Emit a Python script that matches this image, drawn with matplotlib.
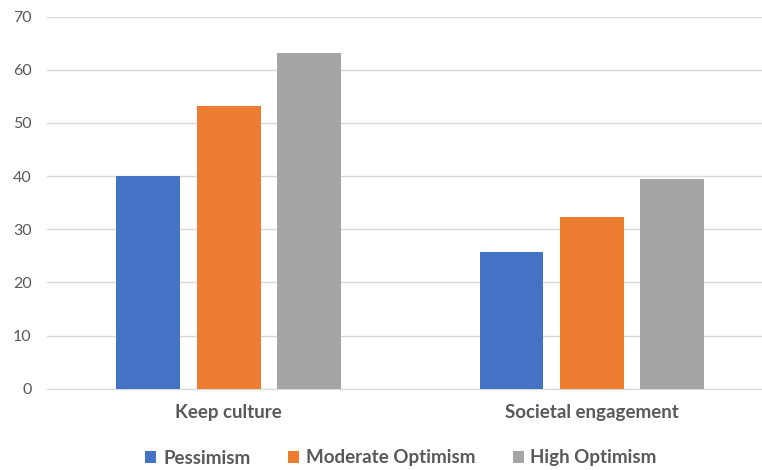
import numpy as np
import matplotlib.pyplot as plt

categories = ["Keep culture", "Societal engagement"]
series = ["Pessimism", "Moderate Optimism", "High Optimism"]
pessimism = [40.0, 25.7]
moderate = [53.2, 32.3]
high = [63.2, 39.5]
colors = ["#4472C4", "#ED7D31", "#A5A5A5"]

plt.rcParams['font.family'] = ['Lato', 'DejaVu Sans']

fig = plt.figure(figsize=(7.62, 4.70), dpi=100)
ax = fig.add_axes([47 / 762, 1 - 388.7 / 470, 1 - 47 / 762, (388.7 - 16.5) / 470])

x = np.arange(len(categories))
width = 0.176
step = 0.2215
for i, (vals, name) in enumerate(zip([pessimism, moderate, high], series)):
    ax.bar(x + (i - 1) * step, vals, width, color=colors[i], label=name, zorder=3)

ax.set_ylim(0, 70)
ax.set_yticks(range(0, 71, 10))
ax.set_xlim(-0.5, 1.468)
ax.set_xticks(x)
ax.set_xticklabels(categories, fontsize=13.5, fontweight='bold', color='#595959')
ax.grid(axis='y', color='#d9d9d9', linewidth=1, zorder=0)
for s in ['top', 'right', 'left']:
    ax.spines[s].set_visible(False)
ax.spines['bottom'].set_color('#d9d9d9')
ax.tick_params(axis='y', length=0, pad=11, labelsize=11.5, labelcolor='#595959')
ax.tick_params(axis='x', length=0, pad=11)

fig.legend(loc='center', bbox_to_anchor=(401 / 762, 1 - 458 / 470), ncol=3, frameon=False,
           prop={'weight': 'bold', 'size': 13.5}, labelcolor='#595959',
           handlelength=0.6, handleheight=0.6, handletextpad=0.35, columnspacing=2.0)

plt.savefig("out.png")
